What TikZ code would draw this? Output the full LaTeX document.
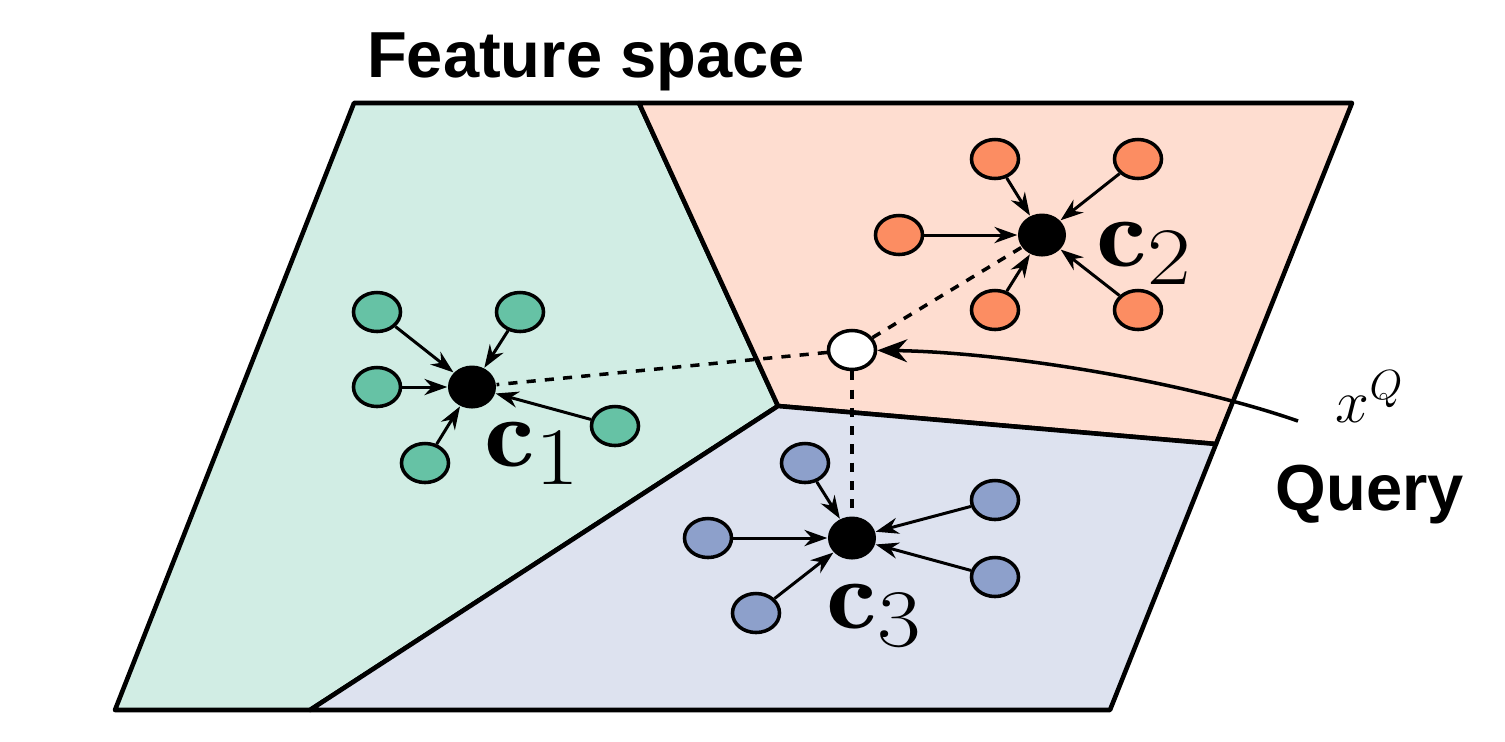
\documentclass[tikz,border=0pt]{standalone}
\usepackage{amsmath}
\usepackage{graphicx}
\usepackage{fontspec}
\setsansfont{Liberation Sans}
\usepackage{tikz}
\usetikzlibrary{arrows.meta,positioning,shapes.geometric}

\definecolor{setgreen}{HTML}{66C2A5}
\definecolor{setorange}{HTML}{FC8D62}
\definecolor{setblue}{HTML}{8DA0CB}

\newcommand{\centrelabel}[1]{\scalebox{1.3}[1.12]{$\mathbf{c}_{#1}$}}

\begin{document}
\begin{tikzpicture}[
    x=0.01cm, y=-0.01cm,
    region/.style={draw, line width=1.3pt, line join=round},
    pt/.style={ellipse, draw, line width=1pt, minimum width=0.47cm, minimum height=0.39cm, inner sep=0pt},
    centre/.style={ellipse, fill=black, minimum width=0.48cm, minimum height=0.43cm, inner sep=0pt},
    arrow/.style={-{Stealth[length=6.5pt, width=4.6pt]}, line width=0.85pt},
    link/.style={dash pattern=on 2.6pt off 2.6pt, line width=1pt},
    clabel/.style={font=\fontsize{24.88}{30}\selectfont, inner sep=0pt},
    title/.style={font=\sffamily\bfseries\fontsize{18.5}{22}\selectfont, inner sep=0pt},
  ]
  \fill[white] (0,0) rectangle (1505,741);
  \useasboundingbox (0,0) rectangle (1505,741);

  % corners of the feature space
  \coordinate (tl) at (354,103);
  \coordinate (tm) at (639,103);
  \coordinate (tr) at (1352,103);
  \coordinate (br) at (1110,710);
  \coordinate (bm) at (310,710);
  \coordinate (bl) at (115,710);
  \coordinate (jn) at (778,406);
  \coordinate (re) at (1216,444);

  \filldraw[region, fill=setgreen!30] (tl) -- (tm) -- (jn) -- (bm) -- (bl) -- cycle;
  \filldraw[region, fill=setorange!30] (tm) -- (tr) -- (re) -- (jn) -- cycle;
  \filldraw[region, fill=setblue!30] (jn) -- (re) -- (br) -- (bm) -- cycle;

  \node[title, anchor=base] (space) at (586,77) {Feature space};

  % centres and query
  \node[centre] (c1) at (472,387) {};
  \node[centre] (c2) at (1042,235) {};
  \node[centre] (c3) at (852,538) {};
  \node[pt, fill=white] (q) at (852,350) {};

  % clusters
  \foreach \x/\y [count=\i] in {377/312, 520/312, 377/387, 615/426, 425/463} {
    \node[pt, fill=setgreen] (g\i) at (\x,\y) {};
    \draw[arrow] (g\i) -- (c1);
  }
  \foreach \x/\y [count=\i] in {995/159, 1138/159, 899/235, 995/310, 1138/310} {
    \node[pt, fill=setorange] (o\i) at (\x,\y) {};
    \draw[arrow] (o\i) -- (c2);
  }
  \foreach \x/\y [count=\i] in {805/463, 708/538, 756/613, 995/500, 995/577} {
    \node[pt, fill=setblue] (b\i) at (\x,\y) {};
    \draw[arrow] (b\i) -- (c3);
  }

  \node[clabel, anchor=base west] (l1) at (484,466) {\centrelabel{1}};
  \node[clabel, anchor=base west] (l2) at (1096,266) {\centrelabel{2}};
  \node[clabel, anchor=base west] (l3) at (826,628) {\centrelabel{3}};

  % distances from the query
  \foreach \c in {c1, c2, c3}
    \draw[link] (q) -- (\c);

  % query label
  \coordinate (qtail) at (1298,421);
  \node[font=\fontsize{18}{22}\selectfont, inner sep=0pt, anchor=base] (xq) at (1370,422) {$x^{Q}$};
  \node[title, anchor=base] (query) at (1370,510) {Query};
  \draw[-{Stealth[length=8.5pt, width=6.5pt]}, line width=1pt] (qtail) .. controls (1180,380) and (1000,352) .. (q);
\end{tikzpicture}
\end{document}
